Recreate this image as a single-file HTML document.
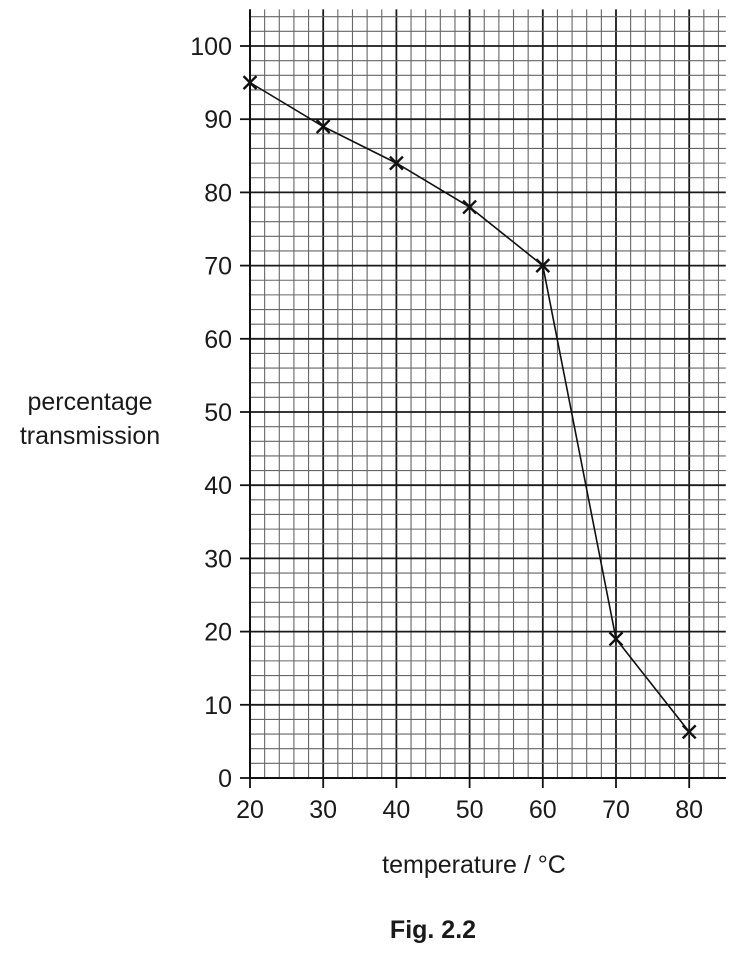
<!DOCTYPE html>
<html><head><meta charset="utf-8"><style>
body{margin:0;background:#fff}
svg text{font-family:"Liberation Sans",Arial,sans-serif;fill:#1a1a1a}
</style></head><body>
<svg id="chart" width="753" height="949" viewBox="0 0 753 949" xmlns="http://www.w3.org/2000/svg">
<g id="grid"></g>
<g id="axes"></g>
<g id="series"></g>
<text x="90" y="410" font-size="25" text-anchor="middle">percentage</text>
<text x="90" y="444" font-size="25" text-anchor="middle">transmission</text>
<text x="474" y="873" font-size="25" text-anchor="middle">temperature / °C</text>
<text x="433" y="938" font-size="25" font-weight="bold" text-anchor="middle">Fig. 2.2</text>
</svg>
<script>
const temps=[20,30,40,50,60,70,80];
const transmission=[95,89,84,78,70,19,6.3];
const xTicks=[20,30,40,50,60,70,80];
const yTicks=[0,10,20,30,40,50,60,70,80,90,100];
const NS="http://www.w3.org/2000/svg";
const X=v=>250+(v-20)*7.32, Y=v=>778-v*7.32;
function mk(t,a,p){const e=document.createElementNS(NS,t);for(const k in a)e.setAttribute(k,a[k]);p.appendChild(e);return e;}
const g=document.getElementById('grid'),ax=document.getElementById('axes'),s=document.getElementById('series');
for(let v=20;v<=85;v+=2){const maj=v%10==0;
 const l=mk('line',{x1:X(v),x2:X(v),y1:Y(105),y2:Y(0),stroke:maj?'#1a1a1a':'#666','stroke-width':maj?1.8:1.1},g);
 }
for(let v=0;v<=105;v+=2){const maj=v%10==0;
 const l=mk('line',{x1:X(20),x2:X(85),y1:Y(v),y2:Y(v),stroke:maj?'#1a1a1a':'#666','stroke-width':maj?1.8:1.1},g);
 }
mk('line',{x1:X(20),x2:X(20),y1:Y(105),y2:Y(0)+1,stroke:'#111','stroke-width':2},ax);
mk('line',{x1:X(20),x2:X(85),y1:Y(0),y2:Y(0),stroke:'#111','stroke-width':2},ax);
yTicks.forEach(v=>{mk('line',{x1:240,x2:250,y1:Y(v),y2:Y(v),stroke:'#111','stroke-width':1.8},ax);
 const t=mk('text',{x:232,y:Y(v)+9,'font-size':25,'text-anchor':'end'},ax);t.textContent=v;
 });
xTicks.forEach(v=>{mk('line',{x1:X(v),x2:X(v),y1:778,y2:788,stroke:'#111','stroke-width':1.8},ax);
 const t=mk('text',{x:X(v),y:818,'font-size':25,'text-anchor':'middle'},ax);t.textContent=v;
 });
const pl=mk('polyline',{points:temps.map((t,i)=>X(t)+','+Y(transmission[i])).join(' '),fill:'none',stroke:'#111','stroke-width':1.6},s);

temps.forEach((t,i)=>{const x=X(t),y=Y(transmission[i]),d=6.5;
 const p=mk('path',{d:`M${x-d},${y-d}L${x+d},${y+d}M${x-d},${y+d}L${x+d},${y-d}`,stroke:'#111','stroke-width':2.4},s);
 });
</script>
</body></html>
